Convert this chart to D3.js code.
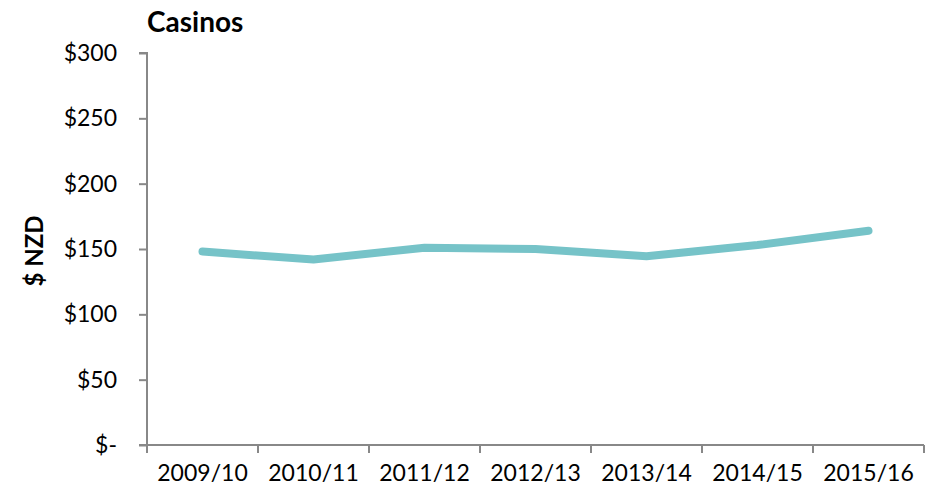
<!DOCTYPE html>
<html>
<head>
<meta charset="utf-8">
<script src="https://cdn.jsdelivr.net/npm/d3@7"></script>
<style>
  body { margin: 0; background: #fff; }
  text { font-family: Lato, "Open Sans", sans-serif; fill: #000; }
  .axis path, .axis line { stroke: #888; stroke-width: 2; }
</style>
</head>
<body>
<div id="chart"></div>
<script>
// chart data
var years  = ['2009/10', '2010/11', '2011/12', '2012/13', '2013/14', '2014/15', '2015/16'];
var spend  = [148, 142, 151, 150, 144.5, 153, 164];
var yTicks = [0, 50, 100, 150, 200, 250, 300];

var margin = { top: 53, right: 8, bottom: 49, left: 147 };
var width  = 932 - margin.left - margin.right;
var height = 494 - margin.top  - margin.bottom;

var svg = d3.select ('#chart')
            .append ('svg')
            .attr ('width', 932)
            .attr ('height', 494)
            .append ('g')
            .attr ('transform', 'translate(' + margin.left + ',' + margin.top + ')');

var xScale = d3.scaleBand ()
               .domain (years)
               .range ([0, width]);

var yScale = d3.scaleLinear ()
               .domain ([0, 300])
               .range ([height, 0]);

// y axis
var yAxis = d3.axisLeft (yScale)
              .tickValues (yTicks)
              .tickSize (8)
              .tickPadding (22)
              .tickFormat (function (d) { return d === 0 ? '$-' : '$' + d; });

svg.append ('g')
   .attr ('class', 'axis')
   .call (yAxis)
   .call (function (g) { g.select ('.domain').attr ('d', 'M-8,0H0V' + height + 'H-8'); })
   .selectAll ('text')
   .style ('font-size', '23px');

// x axis, ticks on the band edges
var xAxis = d3.axisBottom (xScale)
              .tickSize (0)
              .tickPadding (20);

var xg = svg.append ('g')
            .attr ('class', 'axis')
            .attr ('transform', 'translate(0,' + height + ')')
            .call (xAxis);

xg.select ('.domain').attr ('d', 'M0,0H' + width);
xg.selectAll ('text').style ('font-size', '23px');

xg.selectAll ('.edge')
  .data (d3.range (years.length + 1))
  .enter ()
  .append ('line')
  .attr ('x1', function (i) { return i * xScale.bandwidth (); })
  .attr ('x2', function (i) { return i * xScale.bandwidth (); })
  .attr ('y1', 0)
  .attr ('y2', 8);

// the line
var line = d3.line ()
             .x (function (d, i) { return xScale (years[i]) + xScale.bandwidth () / 2; })
             .y (function (d) { return yScale (d); });

svg.append ('path')
   .datum (spend)
   .attr ('d', line)
   .attr ('fill', 'none')
   .attr ('stroke', '#76c3c8')
   .attr ('stroke-width', 8)
   .attr ('stroke-linecap', 'round')
   .attr ('stroke-linejoin', 'round');

// title
svg.append ('text')
   .attr ('x', 0)
   .attr ('y', -21)
   .style ('font-size', '28px')
   .style ('font-weight', 'bold')
   .text ('Casinos');

// y label
svg.append ('text')
   .attr ('transform', 'translate(' + (43 - margin.left) + ',' + (251 - margin.top) + ') rotate(-90)')
   .attr ('text-anchor', 'middle')
   .style ('font-size', '24px')
   .style ('font-weight', 'bold')
   .text ('$ NZD');
</script>
</body>
</html>
